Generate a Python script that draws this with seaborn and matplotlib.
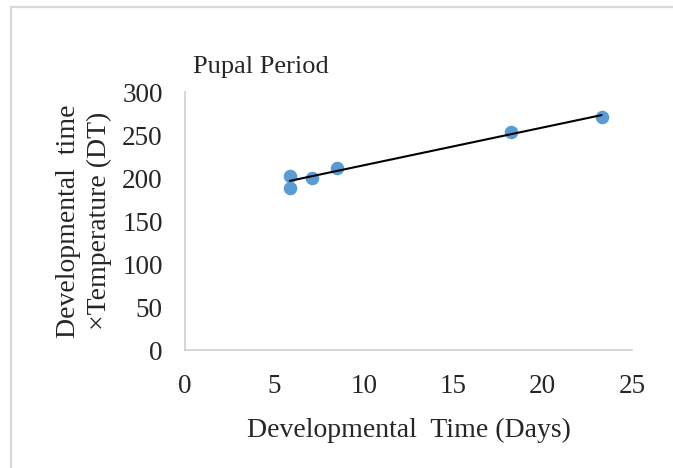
import numpy as np
import pandas as pd
import matplotlib
matplotlib.use("Agg")
import matplotlib.pyplot as plt
import seaborn as sns
from matplotlib.patches import Rectangle

# values
dev_days = [5.86, 5.86, 7.1, 8.52, 18.25, 23.3]
dt_product = [203, 189, 200, 212, 254, 271]

df = pd.DataFrame({"days": dev_days, "dt": dt_product})

sns.set_style("white")
plt.rcParams["font.family"] = ["Liberation Serif", "DejaVu Serif"]

fig = plt.figure(figsize=(6.73, 4.68), dpi=100)
ax = fig.add_axes([0.275, 0.252, 0.664, 0.551])

sns.regplot(data=df, x="days", y="dt", ax=ax, ci=None, truncate=True,
            scatter_kws={"s": 95, "color": "#5B9BD5", "alpha": 1, "linewidths": 0, "zorder": 3},
            line_kws={"color": "black", "linewidth": 1.5, "zorder": 4})

ax.set_xlim(0, 25)
ax.set_ylim(0, 300)
ax.set_xticks(range(0, 26, 5))
ax.set_yticks(range(0, 301, 50))
ax.tick_params(axis="both", length=0, labelsize=19.5)
ax.tick_params(axis="y", pad=16)
ax.tick_params(axis="x", pad=17)

for side in ["top", "right"]:
    ax.spines[side].set_visible(False)
for side in ["left", "bottom"]:
    ax.spines[side].set_color("#D0D0D0")
    ax.spines[side].set_linewidth(1.2)

ax.set_xlabel("Developmental  Time (Days)", fontsize=20, labelpad=14)
ax.set_ylabel("Developmental  time\n×Temperature (DT)", fontsize=20,
              linespacing=1.3)
ax.yaxis.set_label_coords(-0.163, 0.5)

fig.text(193 / 673, 1 - 73 / 468, "Pupal Period", fontsize=19, ha="left", va="baseline")

# outer chart-area border, cut by the image edge on the right and bottom
fig.patches.append(Rectangle((11 / 673, -0.1), 1.1, 1.1 - 7 / 468,
                             transform=fig.transFigure, fill=False,
                             edgecolor="#D9D9D9", linewidth=1.6, clip_on=False))

fig.savefig("out.png", dpi=100)
